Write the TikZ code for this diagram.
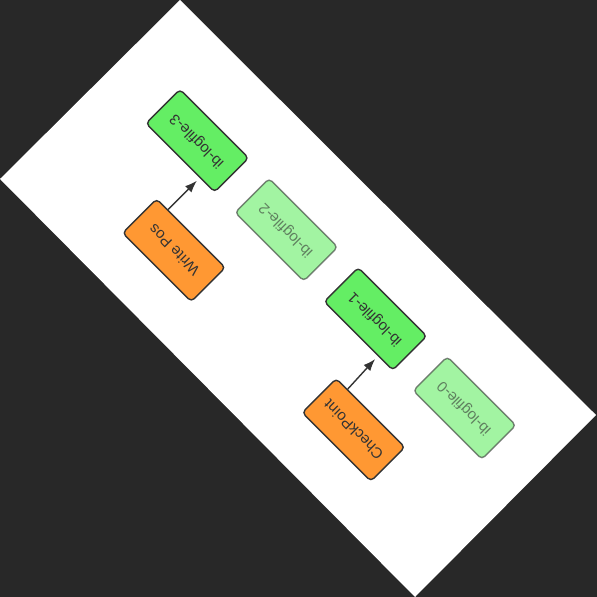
\documentclass[tikz,border=0pt]{standalone}
\usepackage{fontspec}
\setmainfont{Liberation Sans}
\usetikzlibrary{arrows.meta}
\definecolor{darkbg}{HTML}{282828}
\definecolor{logfill}{HTML}{64EE64}
\definecolor{posfill}{HTML}{FF9833}
\definecolor{edge}{HTML}{333333}
\tikzset{
  box/.style = {draw=edge, line width=1.4pt, rounded corners=4pt,
    minimum width=97pt, minimum height=48pt, inner sep=0pt,
    text=edge, font=\fontsize{15}{17}\selectfont},
  logbox/.style = {box, fill=logfill},
  oldlog/.style = {logbox, opacity=0.6},
  posbox/.style = {box, fill=posfill},
  arrow/.style = {-{Latex[length=12pt,width=9pt]}, draw=edge, line width=1.4pt}
}

\begin{document}
\begin{tikzpicture}[x=1pt, y=1pt]
  \useasboundingbox (0,0) rectangle (597,597);
  \fill[darkbg] (0,0) rectangle (597,597);
  \fill[white] (180,597) -- (596,182) -- (415,0) -- (0,418) -- cycle;

  \begin{scope}[shift={(198,457)}, rotate=135, transform shape]
    % log files, newest on the right
    \foreach \i/\x/\look in {0/-378/oldlog, 1/-252/logbox, 2/-126/oldlog, 3/0/logbox}
      \node[\look] (log\i) at (\x,1) {ib-logfile-\i};

    % positions
    \node[posbox] (writepos) at (-61,95) {Write Pos};
    \node[posbox] (checkpt) at (-315,95) {CheckPoint};

    \draw[arrow, shorten >=4pt] ([xshift=33pt]writepos.south) -- ([xshift=-28pt]log3.north);
    \draw[arrow, shorten >=4pt] ([xshift=33pt]checkpt.south) -- ([xshift=-28pt]log1.north);
  \end{scope}
\end{tikzpicture}
\end{document}
